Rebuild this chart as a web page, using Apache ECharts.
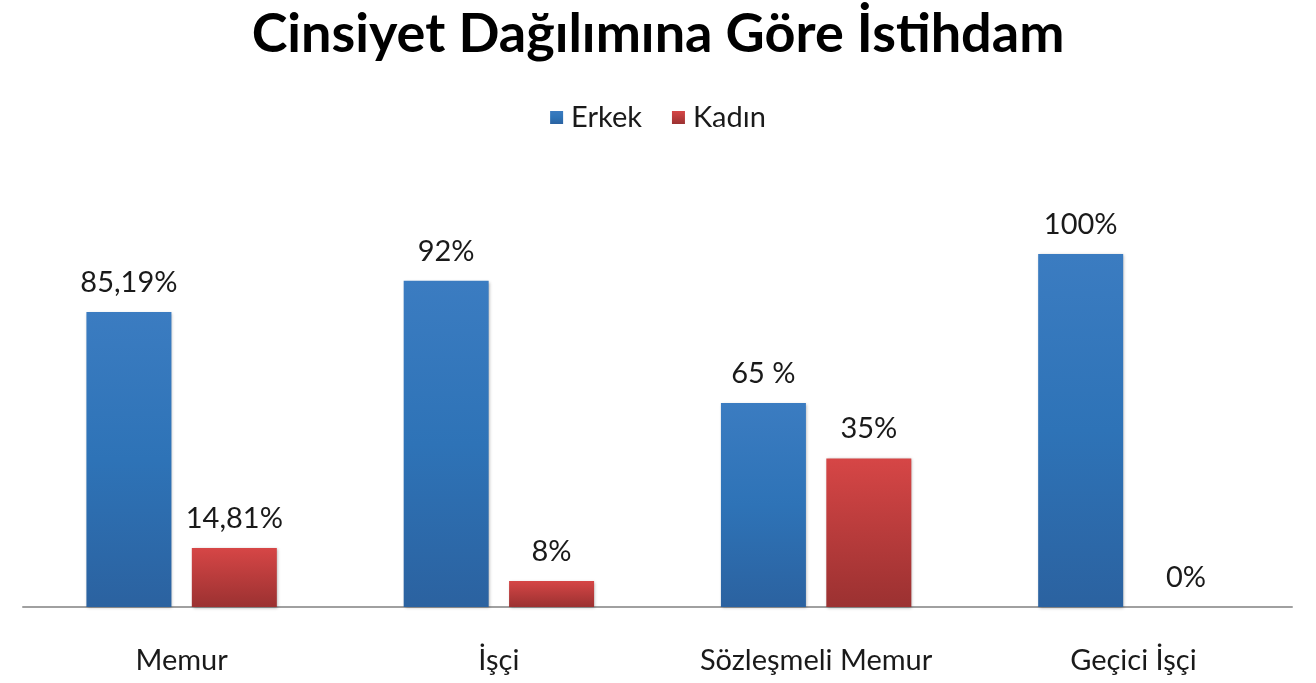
<!DOCTYPE html>
<html>
<head>
<meta charset="utf-8">
<script src="https://cdn.jsdelivr.net/npm/echarts@6/dist/echarts.min.js"></script>
<style>
html,body{margin:0;padding:0;background:#fff;}
#chart{width:1316px;height:683px;}
</style>
</head>
<body>
<div id="chart"></div>
<script>
const categories = ['Memur', 'İşçi', 'Sözleşmeli Memur', 'Geçici İşçi'];
const erkekValues = [83.6, 92.4, 57.8, 100];
const kadinValues = [16.7, 7.4, 42.1, 0];
const erkekLabels = ['85,19%', '92%', '65 %', '100%'];
const kadinLabels = ['14,81%', '8%', '35%', '0%'];

const chart = echarts.init(document.getElementById('chart'));
const labelStyle = {
  show: true, position: 'top', distance: 15,
  fontFamily: 'Lato', fontSize: 29, color: '#1a1a1a'
};
chart.setOption({
  backgroundColor: '#fff',
  title: {
    text: 'Cinsiyet Dağılımına Göre İstihdam',
    left: 'center', top: 3,
    textStyle: { fontFamily: 'Lato', fontWeight: 'bold', fontSize: 54, color: '#000' }
  },
  legend: {
    top: 98, left: 'center',
    icon: 'rect', itemWidth: 13, itemHeight: 13, itemGap: 30,
    textStyle: { fontFamily: 'Lato', fontSize: 29, color: '#1a1a1a', padding: [0, 0, 0, 3] },
    data: ['Erkek', 'Kadın']
  },
  grid: { left: 23, right: 24, top: 254, bottom: 76 },
  xAxis: {
    type: 'category', data: categories,
    axisLine: { lineStyle: { color: '#a0a0a0', width: 2 } },
    axisTick: { show: false },
    axisLabel: { margin: 39, fontFamily: 'Lato', fontSize: 29, color: '#1a1a1a' }
  },
  yAxis: { type: 'value', min: 0, max: 100, show: false, splitLine: { show: false } },
  series: [
    {
      name: 'Erkek', type: 'bar', data: erkekValues, barWidth: 85, barGap: '24%',
      itemStyle: {
        color: new echarts.graphic.LinearGradient(0, 0, 0, 1, [
          { offset: 0, color: '#3b7cc1' }, { offset: 0.5, color: '#2e73b7' }, { offset: 1, color: '#2b62a0' }
        ]),
        shadowBlur: 3, shadowColor: 'rgba(0,0,0,0.3)', shadowOffsetX: 1, shadowOffsetY: 1
      },
      label: Object.assign({}, labelStyle, { formatter: p => erkekLabels[p.dataIndex] })
    },
    {
      name: 'Kadın', type: 'bar', data: kadinValues, barWidth: 85,
      itemStyle: {
        color: new echarts.graphic.LinearGradient(0, 0, 0, 1, [
          { offset: 0, color: '#d64646' }, { offset: 1, color: '#9b3131' }
        ]),
        shadowBlur: 3, shadowColor: 'rgba(0,0,0,0.3)', shadowOffsetX: 1, shadowOffsetY: 1
      },
      label: Object.assign({}, labelStyle, { formatter: p => kadinLabels[p.dataIndex] })
    }
  ]
});
</script>
</body>
</html>
